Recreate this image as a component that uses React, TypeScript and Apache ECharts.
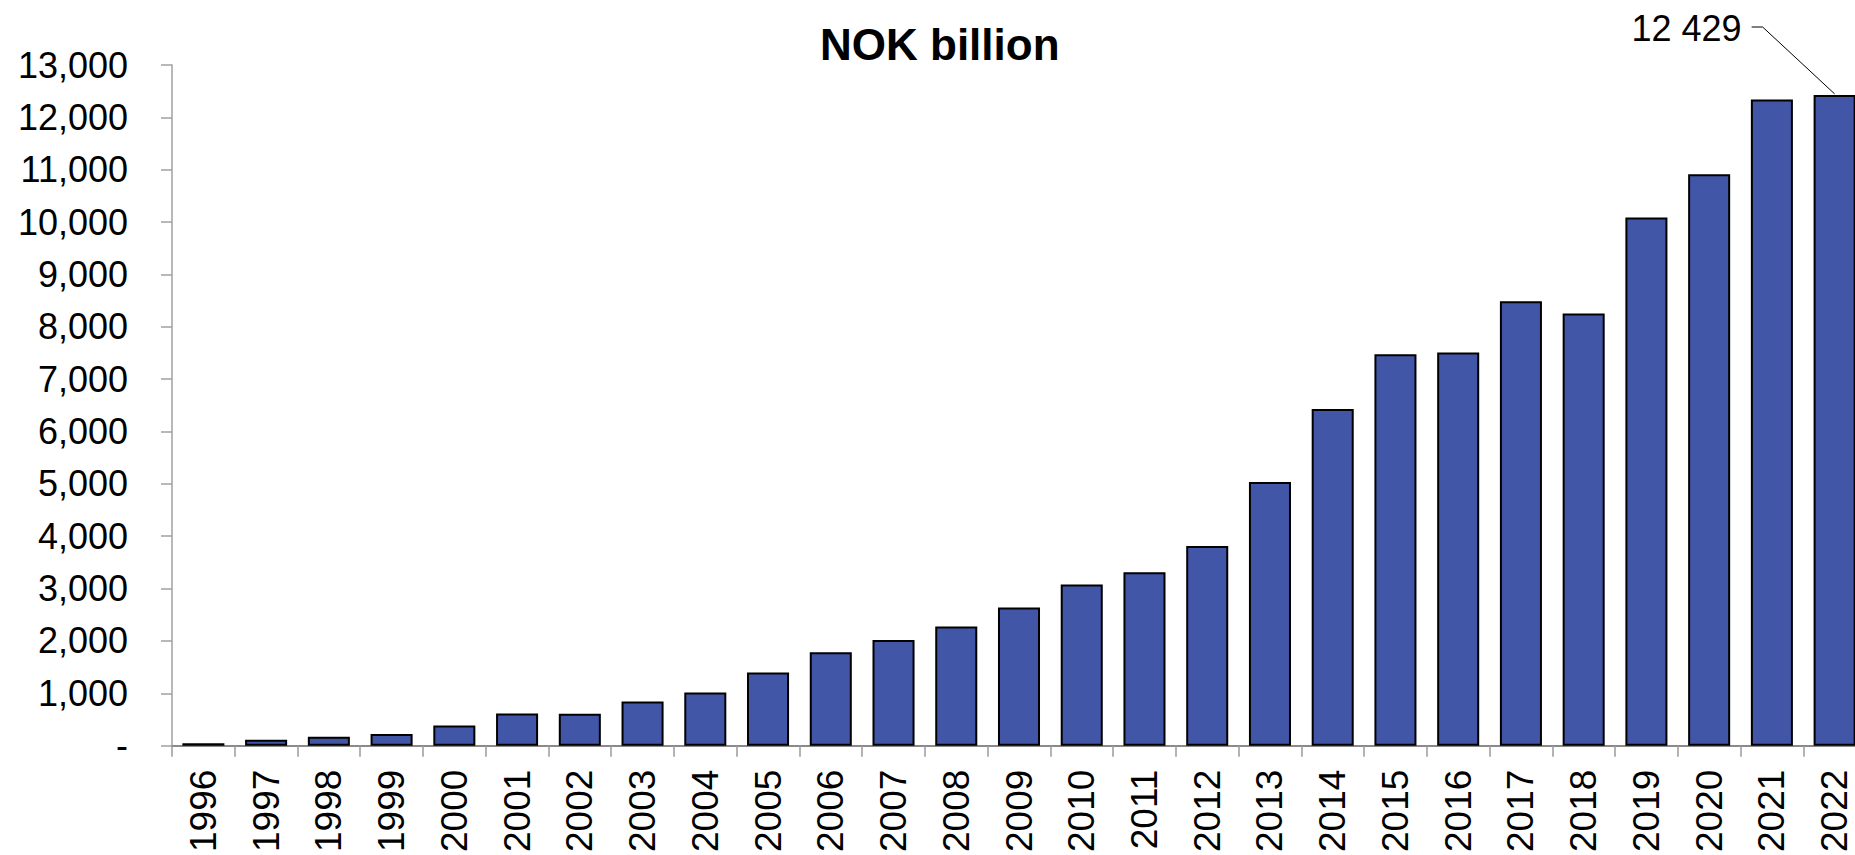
import React, { useEffect, useRef } from "react";
import * as echarts from "echarts";

const years: string[] = [
  "1996", "1997", "1998", "1999", "2000", "2001", "2002", "2003", "2004",
  "2005", "2006", "2007", "2008", "2009", "2010", "2011", "2012", "2013",
  "2014", "2015", "2016", "2017", "2018", "2019", "2020", "2021", "2022",
];

const values: number[] = [
  48, 113, 172, 222, 386, 614, 609, 845, 1016,
  1399, 1784, 2019, 2275, 2640, 3077, 3312, 3816, 5038,
  6431, 7475, 7510, 8488, 8256, 10088, 10914, 12340, 12429,
];

const titleText = "NOK billion";
const annotatedIndex = 26;
const annotationText = "12 429";

const FONT = "'Liberation Sans', Arial, sans-serif";

export default function App() {
  const ref = useRef<HTMLDivElement>(null);

  useEffect(() => {
    if (!ref.current) return;
    const chart = echarts.init(ref.current, undefined, { renderer: "svg" });
    chart.setOption({
      animation: false,
      backgroundColor: "#ffffff",
      textStyle: { fontFamily: FONT },
      grid: { left: 172, right: 0, top: 65, bottom: 107, containLabel: false },
      xAxis: {
        type: "category",
        data: years,
        boundaryGap: true,
        axisLine: { show: true, lineStyle: { color: "#8a8a8a", width: 2 } },
        axisTick: { show: true, length: 11, lineStyle: { color: "#9a9a9a", width: 1.5 } },
        axisLabel: {
          rotate: 90,
          margin: 24,
          fontSize: 37,
          color: "#000",
          fontFamily: FONT,
          interval: 0,
        },
      },
      yAxis: {
        type: "value",
        min: 0,
        max: 13000,
        interval: 1000,
        splitLine: { show: false },
        axisLine: { show: true, lineStyle: { color: "#a0a0a0", width: 1.5 } },
        axisTick: { show: true, length: 11, lineStyle: { color: "#a0a0a0", width: 1.5 } },
        axisLabel: {
          margin: 44,
          fontSize: 36,
          color: "#000",
          fontFamily: FONT,
          formatter: (v: number) => (v === 0 ? "-" : v.toLocaleString("en-US")),
        },
      },
      series: [
        {
          type: "bar",
          data: values,
          barWidth: "67%",
          itemStyle: { color: "#4256a8", borderColor: "#000", borderWidth: 2 },
        },
      ],
    });

    const p = chart.convertToPixel({ seriesIndex: 0 }, [annotatedIndex, values[annotatedIndex]]) as number[];
    const lx = p[0] - 83;
    const ly = 27;
    chart.setOption({
      graphic: [
        {
          type: "text",
          left: 820,
          top: 22,
          style: {
            text: titleText,
            font: `bold 44px ${FONT}`,
            fill: "#000",
          },
        },
        {
          type: "text",
          x: lx - 10,
          y: ly + 1,
          style: {
            text: annotationText,
            font: `36px ${FONT}`,
            fill: "#000",
            align: "right",
            verticalAlign: "middle",
          },
        },
        {
          type: "polyline",
          shape: { points: [[lx, ly], [lx + 11, ly], [p[0], p[1] - 1]] },
          style: { stroke: "#000", lineWidth: 1, fill: null },
        },
      ],
    });

    return () => chart.dispose();
  }, []);

  return (
    <div style={{ position: "fixed", left: 0, top: 0, width: 1855, height: 855, overflow: "hidden", background: "#fff" }}>
      <div ref={ref} style={{ width: 1866, height: 855 }} />
    </div>
  );
}
